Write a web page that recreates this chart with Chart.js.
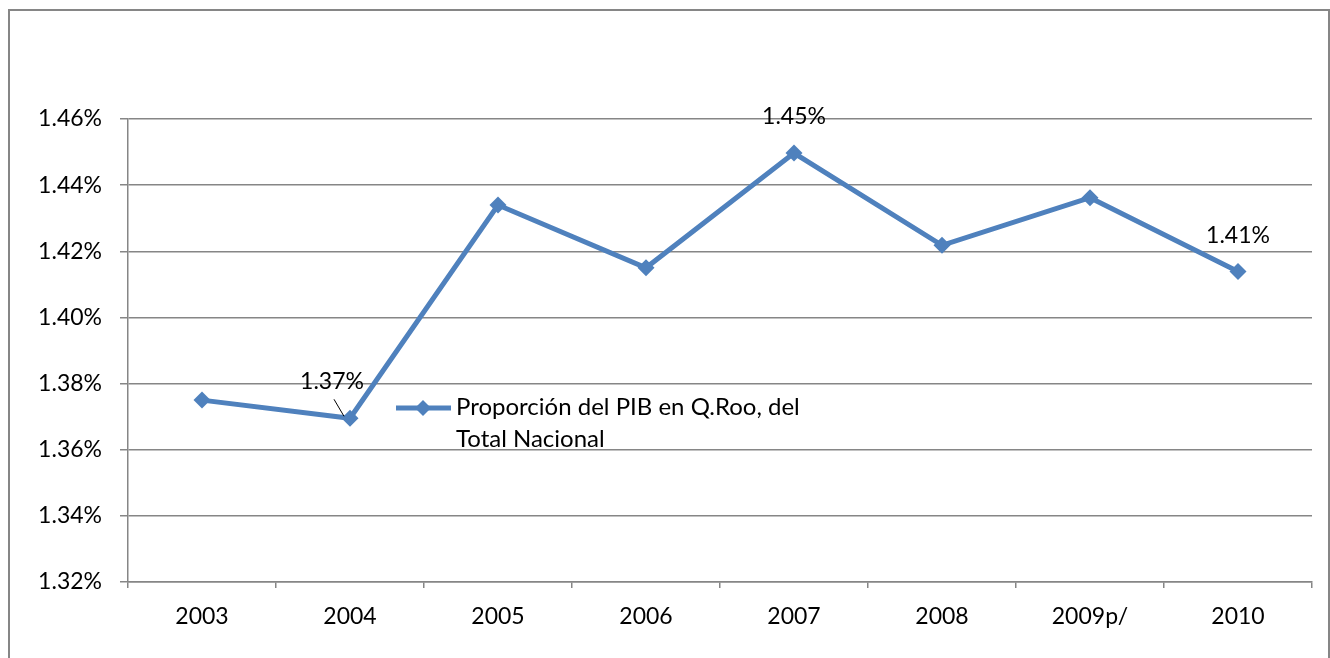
<!DOCTYPE html>
<html>
<head>
<meta charset="utf-8">
<script src="https://cdn.jsdelivr.net/npm/chart.js@4"></script>
<style>
  html, body { margin: 0; padding: 0; background: #fff; }
  #wrap { width: 1330px; height: 658px; position: relative; }
</style>
</head>
<body>
<div id="wrap"><canvas id="pibChart" width="1330" height="658"></canvas></div>
<script>
// Proporción del PIB de Quintana Roo respecto al total nacional

const years = ["2003", "2004", "2005", "2006", "2007", "2008", "2009p/", "2010"];
const shares = [1.375, 1.3695, 1.4340, 1.4150, 1.4497, 1.4218, 1.4362, 1.4139];
const labelledPoints = [1, 4, 7]; // which points carry a value label
const seriesName = "Proporción del PIB en Q.Roo, del Total Nacional";

const lineColor = "#4F81BD";
const gridColor = "#868686";
const fontFamily = "Lato, 'Open Sans', sans-serif";

// outer frame of the chart object
const framePlugin = {
    id: "frame",
    beforeDraw(chart) {
        let ctx = chart.ctx;
        ctx.save();
        ctx.strokeStyle = gridColor;
        ctx.lineWidth = 2;
        ctx.beginPath();
        ctx.moveTo(9, 700);
        ctx.lineTo(9, 10);
        ctx.lineTo(1329, 10);
        ctx.lineTo(1329, 700);
        ctx.stroke();
        ctx.restore();
    }
};

// value labels + legend drawn inside the plot
const labelsPlugin = {
    id: "valueLabels",
    afterDatasetsDraw(chart) {
        let ctx = chart.ctx;
        let meta = chart.getDatasetMeta(0);
        ctx.save();
        ctx.font = "23px " + fontFamily;
        ctx.fillStyle = "#000";
        ctx.textAlign = "center";
        ctx.textBaseline = "middle";

        labelledPoints.forEach(i => {
            let pt = meta.data[i];
            let txt = shares[i].toFixed(2) + "%";
            if (i === 1) {
                ctx.fillText(txt, pt.x - 18, pt.y - 37);
                ctx.strokeStyle = "#000";
                ctx.lineWidth = 1;
                ctx.beginPath();
                ctx.moveTo(pt.x - 16, pt.y - 19);
                ctx.lineTo(pt.x - 6, pt.y - 2);
                ctx.stroke();
            } else {
                ctx.fillText(txt, pt.x, pt.y - 36);
            }
        });

        // legend
        let lx = 396, ly = 408;
        ctx.strokeStyle = lineColor;
        ctx.lineWidth = 5;
        ctx.beginPath();
        ctx.moveTo(lx, ly);
        ctx.lineTo(lx + 55, ly);
        ctx.stroke();
        ctx.fillStyle = lineColor;
        ctx.beginPath();
        ctx.moveTo(lx + 27, ly - 8);
        ctx.lineTo(lx + 35, ly);
        ctx.lineTo(lx + 27, ly + 8);
        ctx.lineTo(lx + 19, ly);
        ctx.closePath();
        ctx.fill();

        ctx.fillStyle = "#000";
        ctx.font = "24px " + fontFamily;
        ctx.textAlign = "left";
        ctx.textBaseline = "alphabetic";
        let words = seriesName.split(" ");
        ctx.fillText(words.slice(0, 6).join(" "), lx + 60, 415);
        ctx.fillText(words.slice(6).join(" "), lx + 60, 447);
        ctx.restore();
    }
};

let ctx = document.getElementById("pibChart").getContext("2d");

new Chart(ctx, {
    type: "line",
    data: {
        labels: years,
        datasets: [{
            label: seriesName,
            data: shares,
            borderColor: lineColor,
            backgroundColor: lineColor,
            borderWidth: 5,
            pointStyle: "rectRot",
            pointRadius: 8.5,
            pointBorderWidth: 0,
            tension: 0
        }]
    },
    options: {
        responsive: false,
        animation: false,
        devicePixelRatio: 1,
        layout: { padding: { top: 119, right: 18, left: 0, bottom: 0 } },
        plugins: {
            legend: { display: false },
            tooltip: { enabled: false }
        },
        scales: {
            x: {
                offset: true,
                grid: {
                    offset: true,
                    drawOnChartArea: false,
                    drawTicks: true,
                    tickLength: 6,
                    color: gridColor,
                    lineWidth: 1.5
                },
                border: { color: gridColor, width: 1.5 },
                ticks: {
                    color: "#000",
                    font: { family: fontFamily, size: 23 },
                    padding: 15,
                    maxRotation: 0
                },
                afterFit(scale) { scale.height = 76; }
            },
            y: {
                min: 1.32,
                max: 1.46,
                ticks: {
                    stepSize: 0.02,
                    color: "#000",
                    font: { family: fontFamily, size: 23 },
                    padding: 18,
                    callback: v => v.toFixed(2) + "%"
                },
                grid: {
                    color: gridColor,
                    lineWidth: 1.5,
                    tickLength: 8
                },
                border: { color: gridColor, width: 1.5 },
                afterFit(scale) { scale.width = 128; }
            }
        }
    },
    plugins: [framePlugin, labelsPlugin]
});
</script>
</body>
</html>
